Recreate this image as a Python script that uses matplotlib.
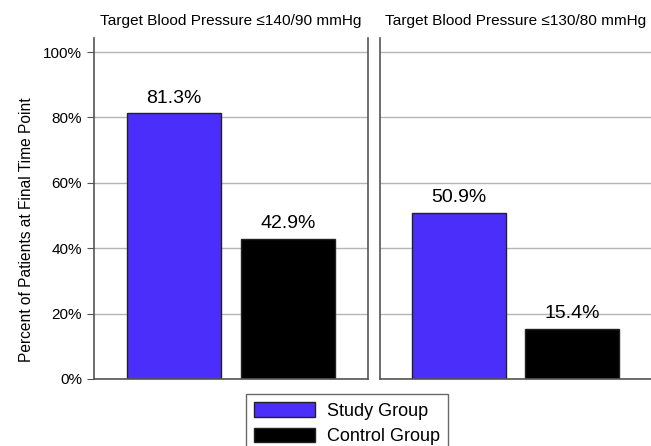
import matplotlib
matplotlib.use('Agg')
import matplotlib.pyplot as plt
from matplotlib.patches import Patch

plt.rcParams['font.family'] = ['Liberation Sans', 'DejaVu Sans']

# data
panel_titles = ['Target Blood Pressure \u2264140/90 mmHg', 'Target Blood Pressure \u2264130/80 mmHg']
groups = ['Study Group', 'Control Group']
study_vals = [81.3, 50.9]
control_vals = [42.9, 15.4]
y_ticks = [0, 20, 40, 60, 80, 100]

colors = ['#4B2EFA', '#000000']
spine_col = '#555555'
grid_col = '#b5b5b5'

fig = plt.figure(figsize=(6.51, 4.46), dpi=100)
ax1 = fig.add_axes([94 / 651, 1 - 379 / 446, 274 / 651, 341 / 446])
ax2 = fig.add_axes([380 / 651, 1 - 379 / 446, 271 / 651, 341 / 446])

for i, ax in enumerate([ax1, ax2]):
    vals = [study_vals[i], control_vals[i]]
    ax.set_axisbelow(True)
    ax.yaxis.grid(True, color=grid_col, linewidth=1)
    bars = ax.bar([0, 1], vals, width=0.83, color=colors, edgecolor='#222222', linewidth=1)
    for b, v in zip(bars, vals):
        ax.text(b.get_x() + b.get_width() / 2, v + 2, f'{v:.1f}%',
                ha='center', va='bottom', fontsize=14)
    ax.set_xlim(-0.7, 1.7)
    ax.set_ylim(0, 104.3)
    ax.set_xticks([])
    ax.set_yticks(y_ticks)
    ax.set_title(panel_titles[i], fontsize=11.1, pad=9)
    ax.spines['top'].set_visible(False)
    for s in ['left', 'bottom', 'right']:
        ax.spines[s].set_color(spine_col)
        ax.spines[s].set_linewidth(1.2)
    ax.tick_params(axis='y', length=5, color=spine_col, labelsize=11)

ax1.set_yticklabels([f'{t}%' for t in y_ticks])
ax1.set_ylabel('Percent of Patients at Final Time Point', fontsize=11.2)
ax1.yaxis.set_label_coords(-0.22, 0.437)
ax2.spines['right'].set_visible(False)
ax2.tick_params(axis='y', left=False, labelleft=False)

handles = [Patch(facecolor=c, edgecolor='#222222', label=g) for c, g in zip(colors, groups)]
fig.legend(handles=handles, loc='upper center', bbox_to_anchor=(347 / 651, 1 - 394 / 446),
           fontsize=13, frameon=True, fancybox=False, edgecolor='#444444',
           handlelength=3.4, handleheight=0.85, handletextpad=0.66, labelspacing=0.45,
           borderpad=0.45, borderaxespad=0)

fig.savefig('out.png', dpi=100)
